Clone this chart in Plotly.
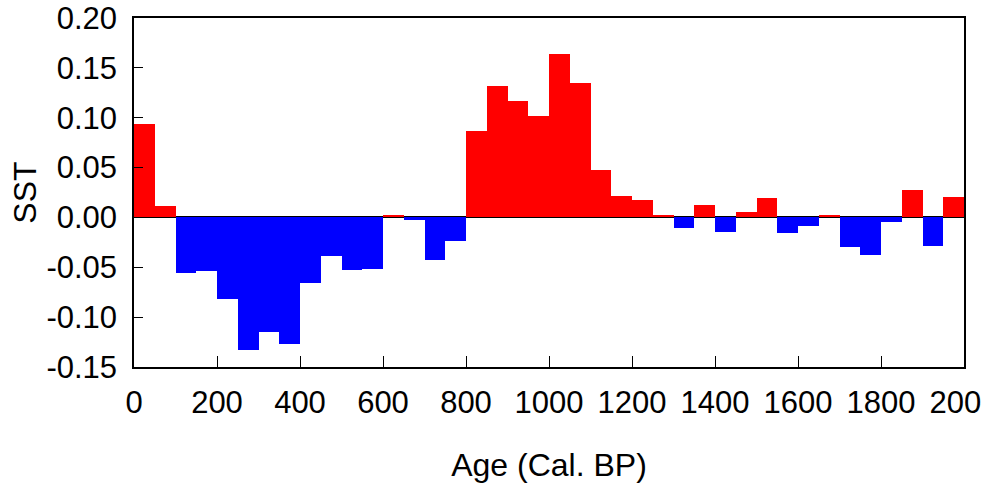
import plotly.graph_objects as go

age_start = [0, 50, 100, 150, 200, 250, 300, 350, 400, 450,
             500, 550, 600, 650, 700, 750, 800, 850, 900, 950,
             1000, 1050, 1100, 1150, 1200, 1250, 1300, 1350, 1400, 1450,
             1500, 1550, 1600, 1650, 1700, 1750, 1800, 1850, 1900, 1950]
sst = [0.094, 0.011, -0.056, -0.054, -0.082, -0.133, -0.115, -0.127, -0.066, -0.039,
       -0.053, -0.052, 0.002, -0.003, -0.043, -0.024, 0.087, 0.132, 0.117, 0.102,
       0.164, 0.135, 0.048, 0.021, 0.017, 0.002, -0.011, 0.012, -0.015, 0.005,
       0.019, -0.016, -0.009, 0.002, -0.030, -0.038, -0.005, 0.028, -0.029, 0.020]
bin_width = 50
x_ticks = [0, 200, 400, 600, 800, 1000, 1200, 1400, 1600, 1800, 2000]
y_ticks = [-0.15, -0.10, -0.05, 0.00, 0.05, 0.10, 0.15, 0.20]

centers = [a + bin_width / 2 for a in age_start]
fill = ["#ff0000" if v >= 0 else "#0000ff" for v in sst]

fig = go.Figure(go.Bar(
    x=centers, y=sst, width=bin_width,
    marker=dict(color=fill, line=dict(width=0)),
    showlegend=False,
))

font = "Liberation Sans, Arial, sans-serif"
fig.update_layout(
    width=981, height=490,
    margin=dict(l=133.5, r=16.5, t=17.5, b=122.5),
    plot_bgcolor="white", paper_bgcolor="white",
    font=dict(family=font, size=31, color="black"),
    bargap=0,
)
fig.update_xaxes(
    range=[0, 2000], tickvals=x_ticks, ticktext=[str(t) for t in x_ticks],
    ticks="inside", ticklen=11, tickwidth=1.2, tickcolor="black",
    showline=True, linecolor="black", linewidth=1.5, mirror=True,
    showgrid=False, zeroline=False, automargin=False,
    ticklabeloverflow="allow", ticklabelstandoff=7,
    tickfont=dict(size=31), title=dict(text="Age (Cal. BP)", font=dict(size=32), standoff=35),
)
fig.update_yaxes(
    range=[-0.15, 0.20], tickvals=y_ticks, ticktext=["%.2f" % t for t in y_ticks],
    ticks="inside", ticklen=9, tickwidth=1.2, tickcolor="black",
    showline=True, linecolor="black", linewidth=1.5, mirror=True,
    showgrid=False, zeroline=True, zerolinecolor="black", zerolinewidth=1.5,
    layer="above traces", automargin=False,
    ticklabeloverflow="allow", ticklabelstandoff=9,
    tickfont=dict(size=31), title=dict(text="SST", font=dict(size=32), standoff=0),
)

# remove the default 8 px page margin so the figure fills the window exactly
fig.write_html("out.html", config={"displayModeBar": False},
               post_script="document.body.style.margin='0';")
